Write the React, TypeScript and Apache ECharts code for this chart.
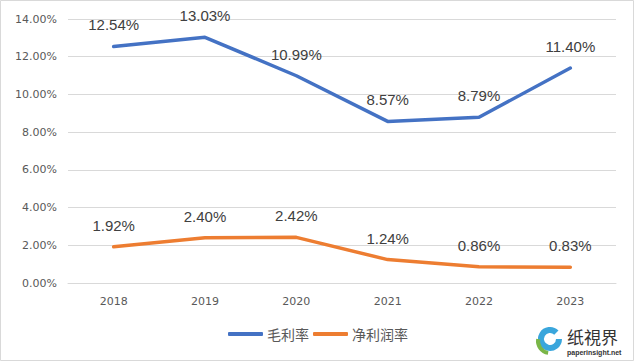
import React, { useEffect, useRef } from "react";
import * as echarts from "echarts";

const years = ["2018", "2019", "2020", "2021", "2022", "2023"];
const grossMargin = [12.54, 13.03, 10.99, 8.57, 8.79, 11.4];
const netMargin = [1.92, 2.4, 2.42, 1.24, 0.86, 0.83];
const seriesNames = ["毛利率", "净利润率"];
const yMin = 0;
const yMax = 14;
const yStep = 2;

export default function App() {
  const ref = useRef<HTMLDivElement>(null);
  useEffect(() => {
    if (!ref.current) return;
    const chart = echarts.init(ref.current, null, { renderer: "svg" });
    const labelStyle = {
      show: true,
      position: "top" as const,
      distance: 14,
      fontFamily: "Liberation Sans",
      fontSize: 15,
      color: "#404040",
      formatter: (p: any) => p.value.toFixed(2) + "%",
    };
    chart.setOption({
      animation: false,
      backgroundColor: "#ffffff",
      grid: { left: 68, right: 19, top: 19, bottom: 79 },
      xAxis: {
        type: "category",
        data: years,
        boundaryGap: true,
        axisLine: { show: true, lineStyle: { color: "#d9d9d9", width: 1 } },
        axisTick: { show: false },
        axisLabel: { fontFamily: "DejaVu Sans", fontSize: 11, color: "#595959", margin: 13 },
      },
      yAxis: {
        type: "value",
        min: yMin,
        max: yMax,
        interval: yStep,
        axisLine: { show: false },
        axisTick: { show: false },
        splitLine: { lineStyle: { color: "#d9d9d9", width: 1 } },
        axisLabel: {
          fontFamily: "DejaVu Sans",
          fontSize: 11,
          color: "#595959",
          margin: 11,
          formatter: (v: number) => v.toFixed(2) + "%",
        },
      },
      legend: {
        bottom: 16,
        left: 223,
        itemWidth: 35,
        itemHeight: 4,
        itemGap: 4,
        icon: "roundRect",
        textStyle: { fontFamily: "Noto Sans CJK SC", fontSize: 14, color: "#595959", padding: [0, 0, 0, -1] },
        data: seriesNames,
      },
      series: [
        {
          name: seriesNames[0],
          type: "line",
          data: grossMargin,
          showSymbol: true,
          symbol: "circle",
          symbolSize: 0.1,
          color: "#4472C4",
          lineStyle: { width: 3.5, color: "#4472C4", cap: "round" },
          label: labelStyle,
        },
        {
          name: seriesNames[1],
          type: "line",
          data: netMargin,
          showSymbol: true,
          symbol: "circle",
          symbolSize: 0.1,
          color: "#ED7D31",
          lineStyle: { width: 3.5, color: "#ED7D31", cap: "round" },
          label: labelStyle,
        },
      ],
      graphic: [
        {
          type: "rect",
          shape: { x: 0.5, y: 0.5, width: 633, height: 360 },
          style: { fill: "none", stroke: "#d9d9d9", lineWidth: 1 },
          silent: true,
        },
        {
          type: "arc",
          shape: { cx: 550, cy: 339, r: 9, startAngle: 0, endAngle: Math.PI * 1.75 },
          style: { stroke: "#3aa6dc", lineWidth: 6, fill: "none" },
        },
        {
          type: "arc",
          shape: { cx: 550, cy: 341, r: 12, startAngle: Math.PI * 0.55, endAngle: Math.PI * 1.05 },
          style: { stroke: "#7ab648", lineWidth: 4, fill: "none" },
        },
        {
          type: "text",
          x: 567,
          y: 328,
          style: { text: "纸視界", font: "17px 'Noto Sans CJK SC'", fill: "#333333" },
        },
        {
          type: "text",
          x: 567,
          y: 349,
          style: { text: "paperinsight.net", font: "bold 7px 'Liberation Sans'", fill: "#333333" },
        },
      ],
    });
    return () => chart.dispose();
  }, []);
  return (
    <div
      ref={ref}
      style={{ position: "fixed", left: 0, top: 0, width: 635, height: 362 }}
    />
  );
}
